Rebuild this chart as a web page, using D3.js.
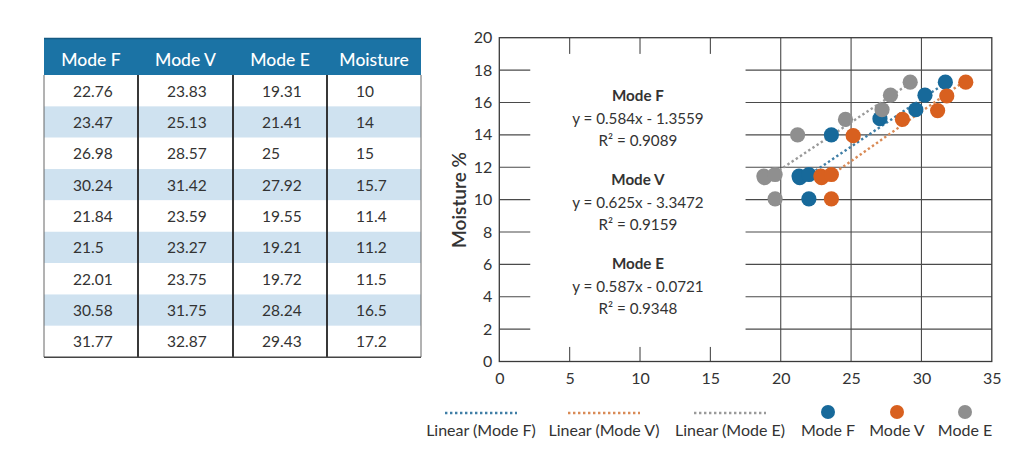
<!DOCTYPE html>
<html><head><meta charset="utf-8">
<script src="https://cdn.jsdelivr.net/npm/d3@7"></script>
<style>
html,body{margin:0;padding:0;background:#fff;}
svg{display:block;font-family:Lato,"Open Sans",sans-serif;}
</style></head>
<body>
<svg id="c" width="1024" height="456"></svg>
<script>
// ---- table data ----
const tableHeaders = ["Mode F","Mode V","Mode E","Moisture"];
const tableModeF = ["22.76","23.47","26.98","30.24","21.84","21.5","22.01","30.58","31.77"];
const tableModeV = ["23.83","25.13","28.57","31.42","23.59","23.27","23.75","31.75","32.87"];
const tableModeE = ["19.31","21.41","25","27.92","19.55","19.21","19.72","28.24","29.43"];
const tableMoisture = ["10","14","15","15.7","11.4","11.2","11.5","16.5","17.2"];

// ---- chart data ----
const pointsModeF = [[22.0,10.05],[23.6,14.0],[27.05,15.0],[29.6,15.55],[21.3,11.45],[21.35,11.35],[22.0,11.55],[30.25,16.45],[31.7,17.25]];
const pointsModeV = [[23.6,10.05],[25.15,13.95],[28.65,14.95],[31.15,15.5],[22.85,11.45],[22.9,11.35],[23.6,11.55],[31.8,16.4],[33.15,17.25]];
const pointsModeE = [[19.6,10.05],[21.2,14.0],[24.6,14.95],[27.2,15.55],[18.8,11.45],[18.85,11.35],[19.6,11.55],[27.8,16.45],[29.2,17.25]];
const trendModeF = [[21.3,11.1],[31.7,17.2]];
const trendModeV = [[23.0,11.15],[33.2,17.4]];
const trendModeE = [[19.0,11.3],[29.2,17.2]];
const xTicks = [0,5,10,15,20,25,30,35];
const yTicks = [0,2,4,6,8,10,12,14,16,18,20];
const equationBlocks = [
  ["Mode F","y = 0.584x - 1.3559","R² = 0.9089"],
  ["Mode V","y = 0.625x - 3.3472","R² = 0.9159"],
  ["Mode E","y = 0.587x - 0.0721","R² = 0.9348"]
];
const legendLabels = ["Linear (Mode F)","Linear (Mode V)","Linear (Mode E)","Mode F","Mode V","Mode E"];

const colF = "#17699a", colV = "#d8601f", colE = "#8f8f8f";
const lineColF = "#3f7ea6", lineColV = "#d98a55", lineColE = "#9a9a9a";

const svg = d3.select("#c");
svg.append("rect").attr("width",1024).attr("height",456).attr("fill","#fff");

// ---------- TABLE ----------
const tX = [44,138,233,327,421];
const tTop = 38, hdrBottom = 75, rowH = 31.35;
const cols = [tableModeF, tableModeV, tableModeE, tableMoisture];
const nRows = tableModeF.length;
const tbl = svg.append("g");
tbl.append("rect").attr("x",tX[0]).attr("y",tTop).attr("width",tX[4]-tX[0]).attr("height",hdrBottom-tTop).attr("fill","#1b73a5");
tbl.append("line").attr("x1",tX[0]).attr("x2",tX[4]).attr("y1",tTop+0.5).attr("y2",tTop+0.5).attr("stroke","#155a82").attr("stroke-width",1.5);
d3.range(nRows).forEach(i=>{
  tbl.append("rect").attr("x",tX[0]).attr("y",hdrBottom+i*rowH).attr("width",tX[4]-tX[0]).attr("height",rowH)
    .attr("fill", i%2===1 ? "#cfe2f0" : "#ffffff");
});
const tBottom = hdrBottom + nRows*rowH;
[1,2,3].forEach(k=>{
  tbl.append("line").attr("x1",tX[k]).attr("x2",tX[k]).attr("y1",hdrBottom).attr("y2",tBottom).attr("stroke","#222").attr("stroke-width",1.8);
});
tbl.append("line").attr("x1",tX[0]).attr("x2",tX[0]).attr("y1",hdrBottom).attr("y2",tBottom).attr("stroke","#666").attr("stroke-width",1);
tbl.append("line").attr("x1",tX[4]).attr("x2",tX[4]).attr("y1",hdrBottom).attr("y2",tBottom).attr("stroke","#666").attr("stroke-width",1);
tbl.append("line").attr("x1",tX[0]).attr("x2",tX[4]).attr("y1",tBottom).attr("y2",tBottom).attr("stroke","#444").attr("stroke-width",1.5);
tableHeaders.forEach((h,k)=>{
  tbl.append("text").attr("x",(tX[k]+tX[k+1])/2).attr("y",66).attr("text-anchor","middle")
    .attr("fill","#fff").attr("font-size",17.5).attr("font-weight",500).text(h);
});
cols.forEach((col,k)=>{
  col.forEach((v,i)=>{
    tbl.append("text").attr("x",tX[k]+29).attr("y",hdrBottom+i*rowH+21.5)
      .attr("fill","#333").attr("font-size",15.5).text(v);
  });
});

// ---------- CHART ----------
const x = d3.scaleLinear().domain([0,35]).range([499.3,991.8]);
const y = d3.scaleLinear().domain([0,20]).range([361.5,37.7]);
const g = svg.append("g");
g.selectAll(".hg").data(yTicks.filter(t=>t>0&&t<20)).join("line")
  .attr("x1",x(0)).attr("x2",x(35)).attr("y1",d=>y(d)).attr("y2",d=>y(d))
  .attr("stroke","#4a4a4a").attr("stroke-width",1.1);
g.selectAll(".vg").data(xTicks.filter(t=>t>0&&t<35)).join("line")
  .attr("x1",d=>x(d)).attr("x2",d=>x(d)).attr("y1",y(0)).attr("y2",y(20))
  .attr("stroke","#4a4a4a").attr("stroke-width",1.1);
g.append("rect").attr("x",x(2.2)).attr("y",y(19)).attr("width",x(17.5)-x(2.2)).attr("height",y(0.9)-y(19)).attr("fill","#fff");
g.append("rect").attr("x",x(0)).attr("y",y(20)).attr("width",x(35)-x(0)).attr("height",y(0)-y(20))
  .attr("fill","none").attr("stroke","#3a3a3a").attr("stroke-width",1.3);
const ax = g.append("g").attr("transform",`translate(0,${y(0)})`)
  .call(d3.axisBottom(x).tickValues(xTicks).tickSize(0).tickPadding(11));
const ay = g.append("g").attr("transform",`translate(${x(0)},0)`)
  .call(d3.axisLeft(y).tickValues(yTicks).tickSize(0).tickPadding(7));
[ax,ay].forEach(a=>{
  a.select(".domain").remove();
  a.selectAll("text").attr("font-family","Lato,'Open Sans',sans-serif").attr("font-size",16).attr("fill","#333");
});
g.append("text").attr("transform",`translate(466,200) rotate(-90)`).attr("text-anchor","middle")
  .attr("font-size",19).attr("font-weight",600).attr("fill","#333").text("Moisture %");

const eqCx = (x(2.2)+x(17.5))/2;
const eqY0 = [101,185,269];
equationBlocks.forEach((b,i)=>{
  b.forEach((t,j)=>{
    g.append("text").attr("x",eqCx).attr("y",eqY0[i]+j*22.5).attr("text-anchor","middle")
      .attr("font-size",15.2).attr("font-weight", j===0?700:400).attr("fill","#333").text(t);
  });
});

const line = d3.line().x(d=>x(d[0])).y(d=>y(d[1]));
[[trendModeF,lineColF],[trendModeV,lineColV],[trendModeE,lineColE]].forEach(([d,c])=>{
  g.append("path").datum(d).attr("d",line).attr("fill","none").attr("stroke",c)
    .attr("stroke-width",2.4).attr("stroke-dasharray","2.4,2.6");
});
[[pointsModeF,colF],[pointsModeV,colV],[pointsModeE,colE]].forEach(([d,c])=>{
  g.append("g").selectAll("circle").data(d).join("circle")
    .attr("cx",p=>x(p[0])).attr("cy",p=>y(p[1])).attr("r",7.6).attr("fill",c);
});

const lg = svg.append("g");
const lineCx = [481,604,730], lineCols = [lineColF,lineColV,lineColE];
lineCx.forEach((cx,i)=>{
  lg.append("line").attr("x1",cx-36).attr("x2",cx+36).attr("y1",413).attr("y2",413)
    .attr("stroke",lineCols[i]).attr("stroke-width",2.4).attr("stroke-dasharray","2.4,2.6");
  lg.append("text").attr("x",cx).attr("y",436).attr("text-anchor","middle").attr("font-size",16).attr("fill","#333").text(legendLabels[i]);
});
const dotCx = [828,897,965], dotCols = [colF,colV,colE];
dotCx.forEach((cx,i)=>{
  lg.append("circle").attr("cx",cx).attr("cy",412).attr("r",7).attr("fill",dotCols[i]);
  lg.append("text").attr("x",cx).attr("y",436).attr("text-anchor","middle").attr("font-size",16).attr("fill","#333").text(legendLabels[3+i]);
});
</script>
</body></html>
